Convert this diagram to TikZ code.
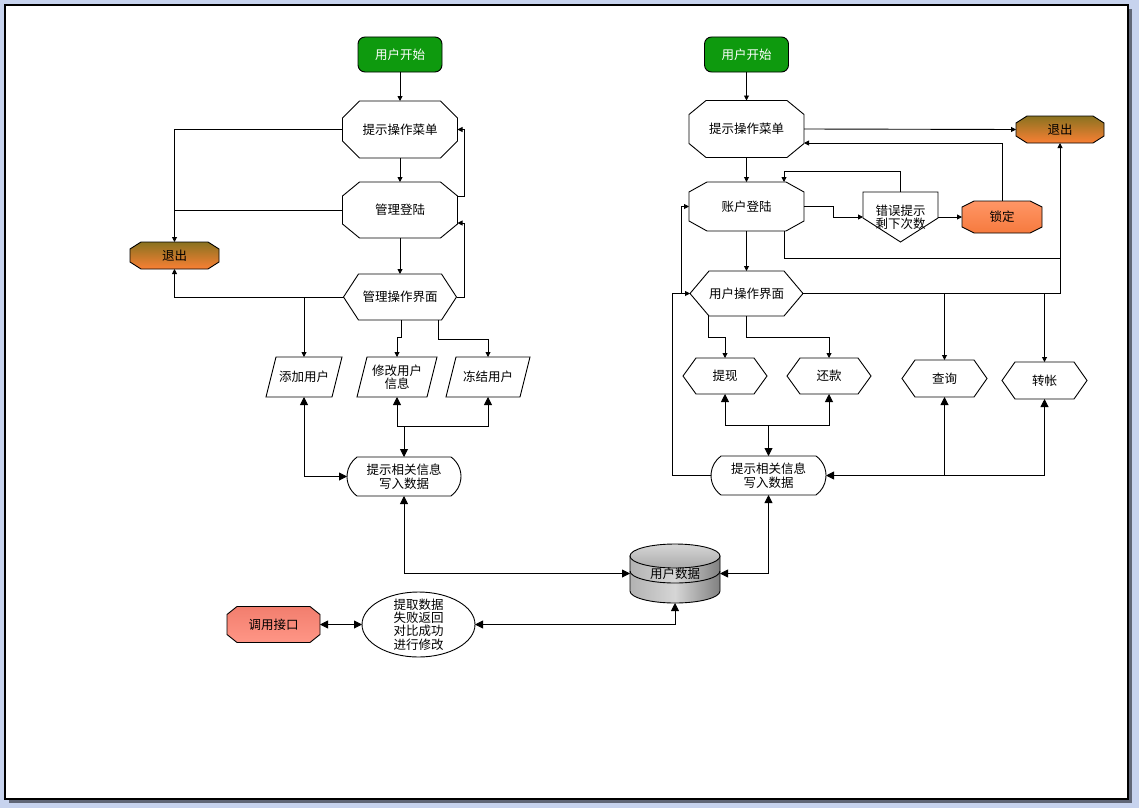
\documentclass[tikz,border=0pt]{standalone}
\usepackage{fontspec}
\setmainfont{Noto Sans CJK SC}
\usetikzlibrary{arrows.meta,calc}
\pgfdeclarelayer{pagebg}
\pgfdeclarelayer{shapes}
\pgfsetlayers{pagebg,shapes,main}
\tikzset{
  txt/.style={inner sep=0pt, outer sep=0pt, align=center, font=\fontsize{12.5}{13.4}\selectfont},
  ln/.style={line width=0.9pt, draw=black},
  sa/.style={ln, -{Triangle[length=5pt,width=5pt]}},
  ba/.style={ln, -{Triangle[length=8pt,width=8pt]}},
  bb/.style={ln, {Triangle[length=8pt,width=8pt]}-{Triangle[length=8pt,width=8pt]}},
  shp/.style={draw=black, line width=0.9pt, fill=white},
}
% octagon: name, centre, w, h, chamfer x, chamfer y, style, text
\newcommand\Oct[8]{%
  \node[txt, minimum width=#3pt, minimum height=#4pt] (#1) at (#2) {#8};
  \begin{pgfonlayer}{shapes}
  \path[#7] ([xshift=#5pt]#1.north west) -- ([xshift=-#5pt]#1.north east)
    -- ([yshift=-#6pt]#1.north east) -- ([yshift=#6pt]#1.south east)
    -- ([xshift=-#5pt]#1.south east) -- ([xshift=#5pt]#1.south west)
    -- ([yshift=#6pt]#1.south west) -- ([yshift=-#6pt]#1.north west) -- cycle;
  \end{pgfonlayer}}
% hexagon: name, centre, w, h, inset, text
\newcommand\Hex[6]{%
  \node[txt, minimum width=#3pt, minimum height=#4pt] (#1) at (#2) {#6};
  \begin{pgfonlayer}{shapes}
  \path[shp] ([xshift=#5pt]#1.north west) -- ([xshift=-#5pt]#1.north east)
    -- (#1.east) -- ([xshift=-#5pt]#1.south east) -- ([xshift=#5pt]#1.south west)
    -- (#1.west) -- cycle;
  \end{pgfonlayer}}
% parallelogram: name, centre, w, h, skew, text
\newcommand\Para[6]{%
  \node[txt, minimum width=#3pt, minimum height=#4pt] (#1) at (#2) {#6};
  \begin{pgfonlayer}{shapes}
  \path[shp] ([xshift=#5pt]#1.north west) -- (#1.north east)
    -- ([xshift=-#5pt]#1.south east) -- (#1.south west) -- cycle;
  \end{pgfonlayer}}
% rounded-end box: name, centre, w, text (height 39)
\newcommand\Term[4]{%
  \node[txt, minimum width=#3pt, minimum height=39pt] (#1) at (#2) {#4};
  \begin{pgfonlayer}{shapes}
  \path[shp] ([xshift=10pt]#1.north west) -- ([xshift=-10pt]#1.north east)
    arc[start angle=54.3, end angle=-54.3, radius=24pt]
    -- ([xshift=10pt]#1.south west)
    arc[start angle=234.3, end angle=125.7, radius=24pt] -- cycle;
  \end{pgfonlayer}}
\begin{document}
\begin{tikzpicture}[x=1pt,y=1pt]
\useasboundingbox (0,0) rectangle (1139,-808);
\begin{pgfonlayer}{pagebg}
  \fill[fill={rgb,255:red,199;green,211;blue,238}] (0,0) rectangle (1139,-808);
  \fill[fill={rgb,255:red,96;green,102;blue,118}] (9,-9) rectangle (1132,-803);
  \draw[fill=white, draw=black, line width=1.3pt] (5,-5) rectangle (1128,-799);
\end{pgfonlayer}

% ---------------- left column ----------------
\node[txt, draw=black, line width=0.9pt, rounded corners=7pt, fill={rgb,255:red,14;green,154;blue,14},
      text=white, minimum width=84pt, minimum height=35pt] (startL) at (400,-54.5) {用户开始};
\Oct{menuL}{400,-129.5}{115}{57}{17}{17}{shp}{提示操作菜单}
\Oct{loginL}{400,-210}{115}{56}{17}{14}{shp}{管理登陆}
\Hex{mgrL}{400,-297}{113}{46}{15}{管理操作界面}
\Oct{exitL}{174.5,-255.5}{89}{27}{11}{7}{draw=black,line width=0.9pt,top color={rgb,255:red,138;green,114;blue,32},bottom color={rgb,255:red,250;green,128;blue,52}}{退出}
\Para{addU}{304,-377}{76}{40}{10}{添加用户}
\Para{modU}{397,-377}{80}{40}{10}{修改用户\\信息}
\Para{frzU}{488,-377}{84}{40}{10}{冻结用户}
\Term{infoL}{404,-476.5}{114}{提示相关信息\\写入数据}

% ---------------- right column ----------------
\node[txt, draw=black, line width=0.9pt, rounded corners=7pt, fill={rgb,255:red,14;green,154;blue,14},
      text=white, minimum width=84pt, minimum height=35pt] (startR) at (746.5,-54.5) {用户开始};
\Oct{menuR}{746.5,-129}{115}{57}{17}{14}{shp}{提示操作菜单}
\Oct{acct}{746.5,-206.5}{115}{49}{18}{10}{shp}{账户登陆}
\Oct{exitR}{1060,-129.5}{88}{27}{11}{7}{draw=black,line width=0.9pt,top color={rgb,255:red,138;green,114;blue,32},bottom color={rgb,255:red,250;green,128;blue,52}}{退出}
\Oct{lock}{1002,-217}{80}{32}{12}{6}{draw=black,line width=0.9pt,top color={rgb,255:red,255;green,150;blue,102},bottom color={rgb,255:red,246;green,122;blue,62}}{锁定}
\node[txt, minimum width=75pt, minimum height=50pt] (err) at (900.5,-217) {错误提示\\剩下次数};
\begin{pgfonlayer}{shapes}
  \path[shp] (err.north west) -- (err.north east) -- ([yshift=24pt]err.south east)
    -- (err.south) -- ([yshift=24pt]err.south west) -- cycle;
\end{pgfonlayer}
\Hex{userUI}{746.5,-293.5}{113}{45}{19}{用户操作界面}
\Hex{wd}{725,-376}{84}{36}{13}{提现}
\Hex{rp}{829,-376}{84}{36}{13}{还款}
\Hex{qry}{944.5,-378.5}{85}{37}{13}{查询}
\Hex{tr}{1044.5,-380.5}{85}{37}{13}{转帐}
\Term{infoR}{768.5,-475.5}{115}{提示相关信息\\写入数据}

% ---------------- bottom ----------------
\node[txt, minimum width=90pt, minimum height=59pt] (db) at (675,-573.5) {用户数据};
\begin{pgfonlayer}{shapes}
  \path[draw=black, line width=0.9pt, left color={rgb,255:red,178;green,178;blue,178},
        right color={rgb,255:red,128;green,128;blue,128}, middle color={rgb,255:red,214;green,214;blue,214}]
    (630,-556) -- (630,-591) arc[start angle=180, end angle=360, x radius=45pt, y radius=12pt]
    -- (720,-556) -- cycle;
  \path[draw=black, line width=0.9pt, top color={rgb,255:red,214;green,214;blue,214},
        bottom color={rgb,255:red,170;green,170;blue,170}]
    (675,-556) ellipse[x radius=45pt, y radius=12pt];
  \draw[line width=0.9pt] (630,-571) arc[start angle=180, end angle=360, x radius=45pt, y radius=12pt];
\end{pgfonlayer}
\node[txt, minimum width=113pt, minimum height=65pt] (ell) at (418.5,-624.5) {提取数据\\失败返回\\对比成功\\进行修改};
\begin{pgfonlayer}{shapes}
  \path[shp] (ell.center) ellipse[x radius=56.5pt, y radius=32.5pt];
\end{pgfonlayer}
\Oct{call}{273.5,-624.5}{93}{36}{10}{8}{draw=black,line width=0.9pt,top color={rgb,255:red,242;green,126;blue,110},bottom color={rgb,255:red,255;green,150;blue,134}}{调用接口}

% ---------------- connectors: left ----------------
\draw[sa] (startL.south) -- (menuL.north);
\draw[sa] (menuL.south) -- (loginL.north);
\draw[sa] (loginL.south) -- (mgrL.north);
\draw[sa] ([yshift=14pt]loginL.east) -- ++(7,0) |- (menuL.east);
\draw[sa] (mgrL.east) -- ++(8,0) |- ([yshift=-13pt]loginL.east);
\draw[sa] (menuL.west) -| (exitL.north);
\draw[ln] (loginL.west) -- (loginL.west -| exitL.north);
\draw[sa] (mgrL.west) -| (exitL.south);
\draw[sa] (addU.north |- mgrL.west) -- (addU.north);
\draw[sa] ([xshift=1pt]mgrL.south) -- ++(0,-17) -| (modU.north);
\draw[sa] ([xshift=38pt]mgrL.south) -- ++(0,-19) -| (frzU.north);
\draw[bb] (addU.south) |- (infoL.west);
\draw[bb] (modU.south) -- ++(0,-29) coordinate (jL) -| (frzU.south);
\draw[ba] (jL -| infoL.north) -- (infoL.north);
\draw[bb] (infoL.south) |- (db.west);

% ---------------- connectors: right ----------------
\draw[sa] (startR.south) -- (menuR.north);
\draw[sa] (menuR.east) -- (exitR.west);
\draw[sa] (lock.north) |- ([yshift=-14pt]menuR.east);
\draw[sa] (menuR.south) -- (acct.north);
\draw[sa] (err.north) -- ++(0,21) -| ([xshift=37.5pt]acct.north);
\draw[sa] (acct.east) -- ++(29,0) |- (err.west);
\draw[sa] (err.east) -- (lock.west);
\draw[sa] ([xshift=37.5pt]acct.south) -- ++(0,-27) coordinate (k1) -| (exitR.south);
\draw[ln] (userUI.east) -| (k1 -| exitR.south);
\draw[sa] (qry.north |- userUI.east) -- (qry.north);
\draw[sa] (tr.north |- userUI.east) -- (tr.north);
\draw[sa] (acct.south) -- (userUI.north);
\draw[sa] ([xshift=-38pt]userUI.south) -- ++(0,-21) -| (wd.north);
\draw[sa] (userUI.south) -- ++(0,-21) -| (rp.north);
\draw[bb] (wd.south) -- ++(0,-31) coordinate (jR) -| (rp.south);
\draw[ba] (jR -| infoR.north) -- (infoR.north);
\draw[bb] (tr.south) |- (infoR.east);
\draw[ba] (qry.south |- infoR.east) -- (qry.south);
\draw[sa] (infoR.west) -- ++(-39,0) |- (userUI.west);
\draw[sa] ([xshift=-9pt]userUI.west) |- (acct.west);
\draw[bb] (infoR.south) |- (db.east);

% ---------------- connectors: bottom ----------------
\draw[bb] (db.south) |- (ell.east);
\draw[bb] (call.east) -- (ell.west);
\end{tikzpicture}
\end{document}
